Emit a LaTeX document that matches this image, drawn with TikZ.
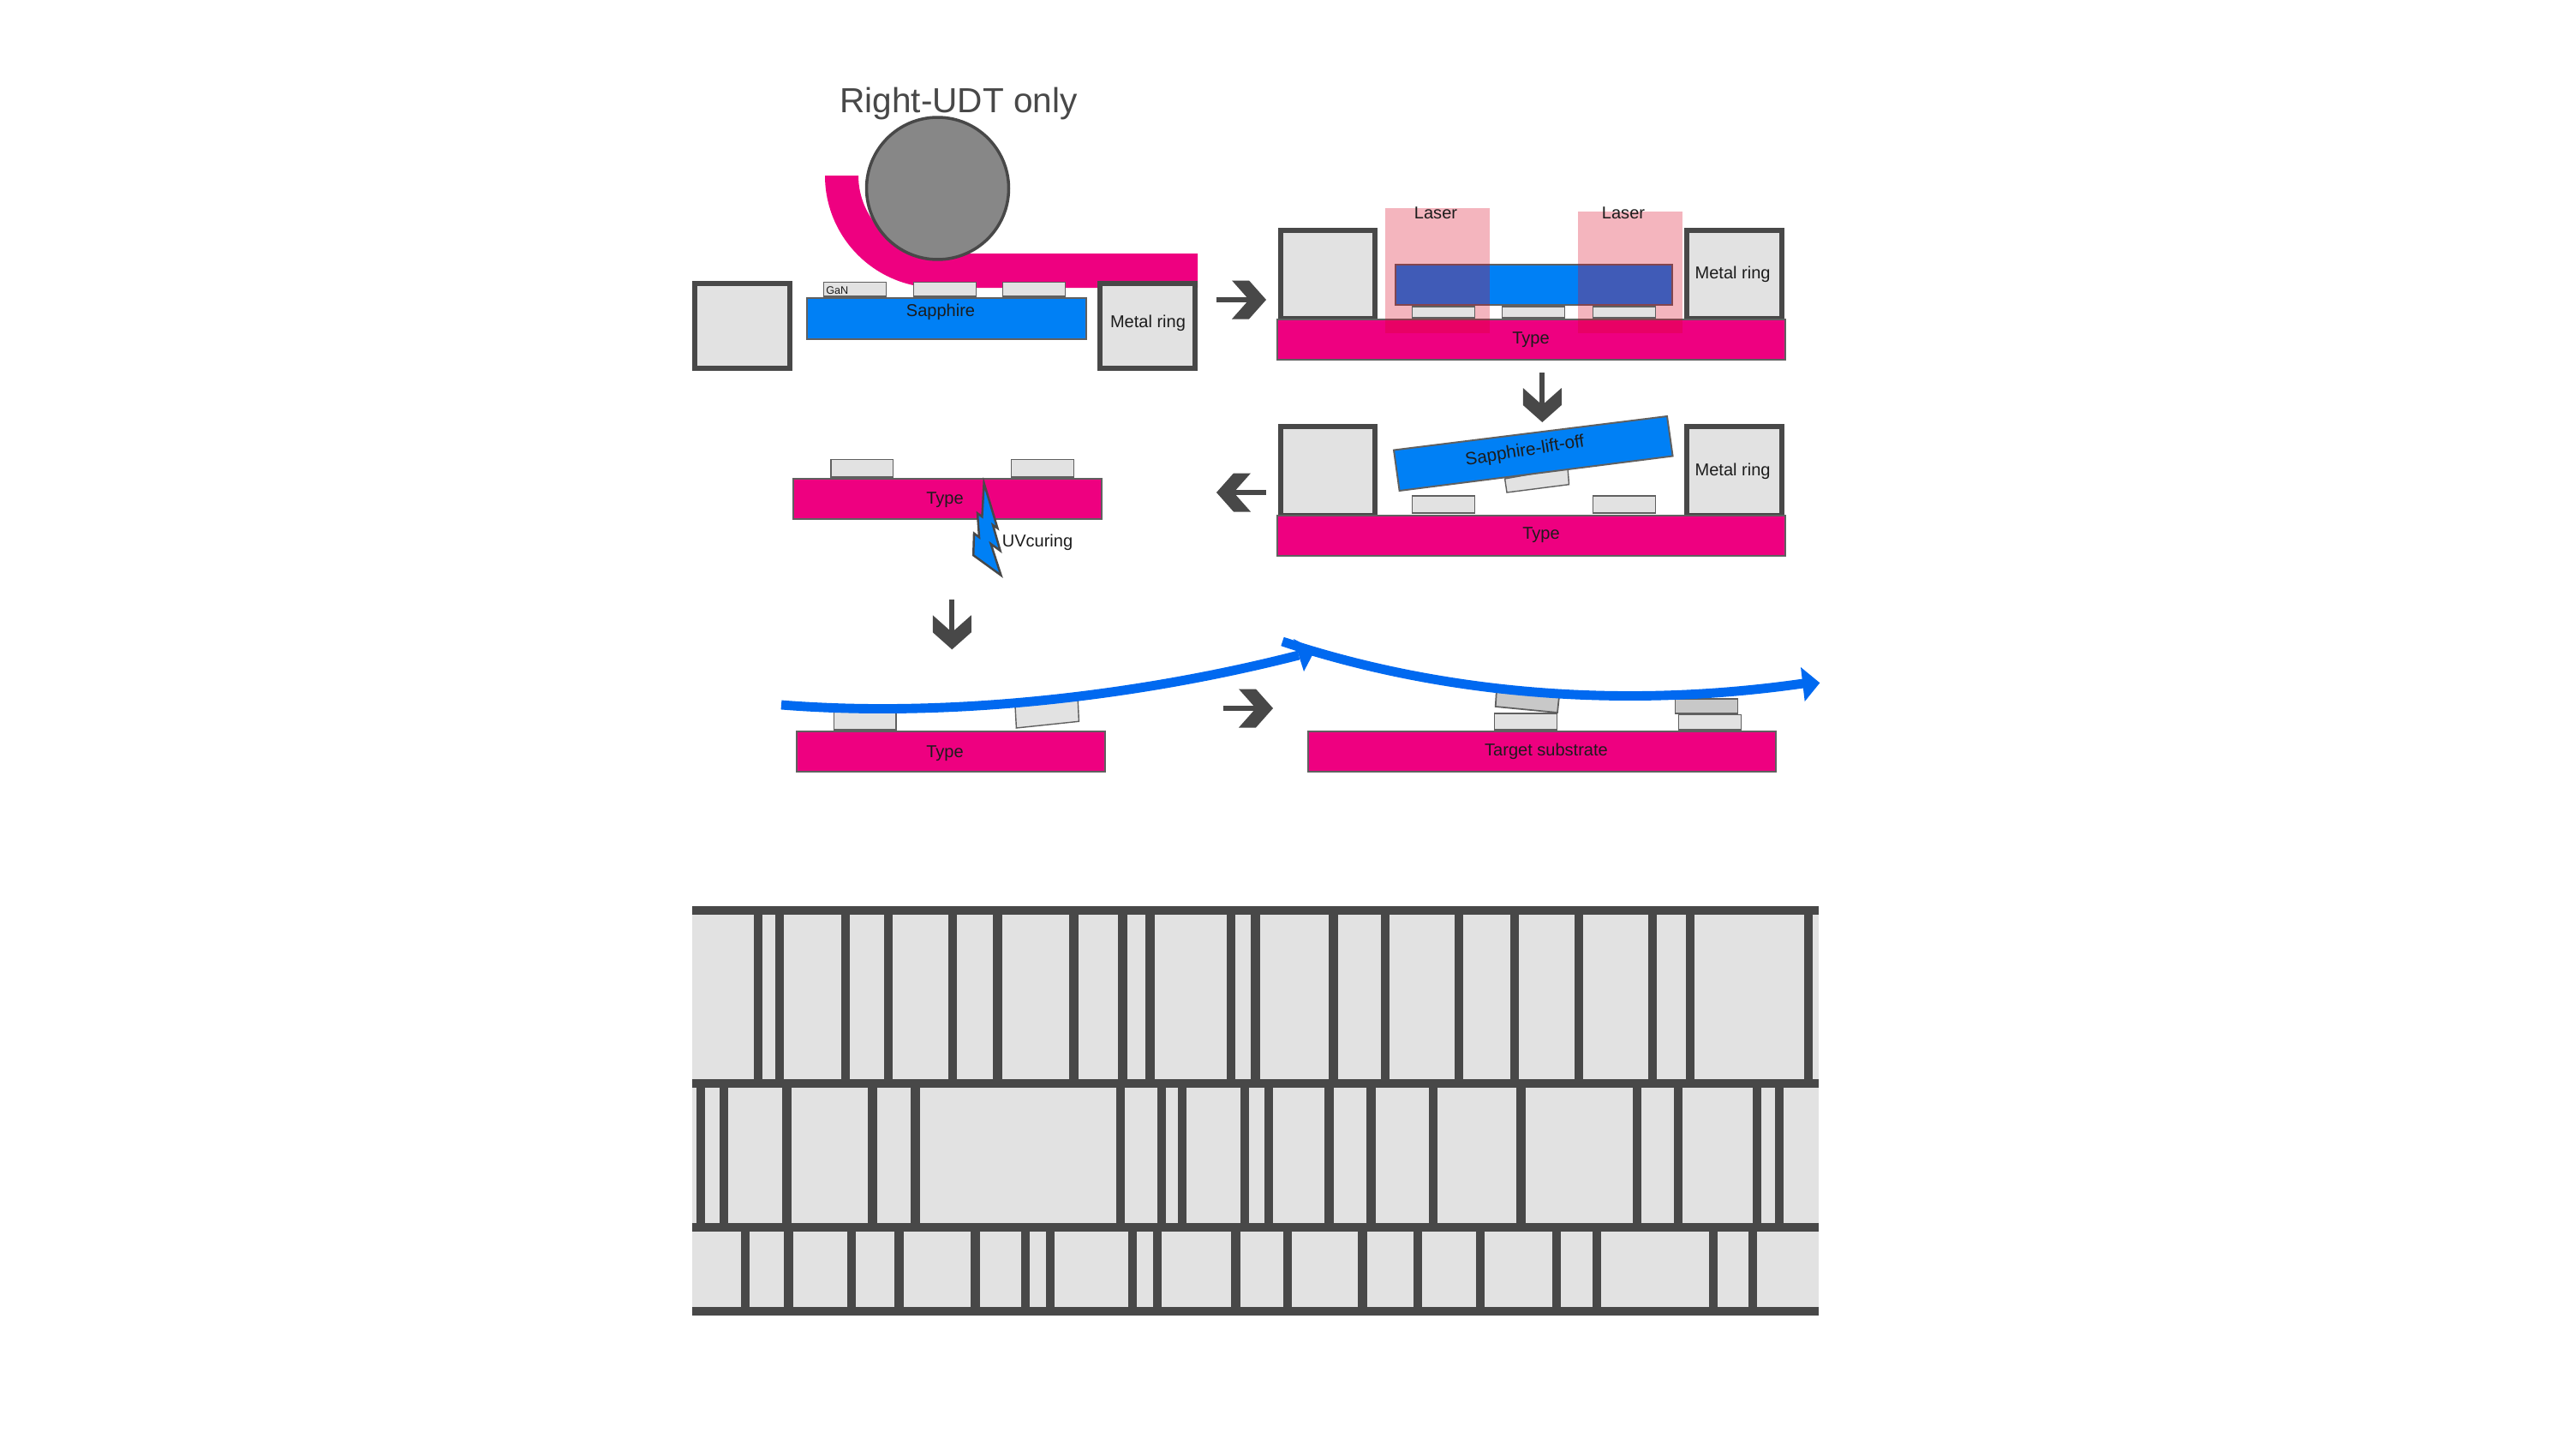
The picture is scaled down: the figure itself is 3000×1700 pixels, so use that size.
\documentclass[tikz,border=0pt]{standalone}
\usepackage{fontspec}
\setmainfont{Liberation Sans}
\definecolor{dk}{HTML}{484848}
\definecolor{cellg}{HTML}{E2E2E2}
\definecolor{upg}{HTML}{C8C8C8}
\definecolor{pinkf}{HTML}{EE0080}
\definecolor{bluef}{HTML}{0080F5}
\definecolor{curveb}{HTML}{0069F0}
\definecolor{laserc}{RGB}{218,5,37}
\definecolor{edgeg}{HTML}{606060}
\definecolor{txt}{HTML}{1C1C1C}
\definecolor{rollerc}{HTML}{878787}
\newcommand{\pxfont}[1]{\fontsize{#1}{#1}\selectfont}
\tikzset{
  ring/.style={draw=dk,fill=cellg,line width=3.4pt,line join=miter},
  chip/.style={draw=edgeg,fill=cellg,line width=0.8pt},
  upchip/.style={draw=edgeg,fill=upg,line width=1pt},
  type/.style={draw=edgeg,fill=pinkf,line width=1.1pt},
  saph/.style={draw=edgeg,fill=bluef,line width=1.1pt},
  laserbeam/.style={fill=laserc,fill opacity=0.294},
  film/.style={fill=pinkf},
  bowed/.style={draw=curveb,line width=6.2pt},
  curvehead/.style={fill=curveb},
  lab/.style={inner sep=0pt,text=txt,font=\pxfont{11.4}},
  bar/.style={draw=dk,line width=5.8pt},
  bigarrow/.pic={
    \fill[dk] (-58,-3) -- (-15,-3) -- (-15,3) -- (-58,3) -- cycle;
    \fill[dk] (-40,-22.5) -- (-20,-22.5) -- (0,0) -- (-20,22.5) -- (-40,22.5) -- (-20,0) -- cycle;
  }
}
\begin{document}
\begin{tikzpicture}[x=0.02cm,y=-0.02cm]
\useasboundingbox[fill=white] (0,0) rectangle (3000,1700);

% --- step 1
\fill[film] (963,205) .. controls (963,277.4) and (1021.6,336) .. (1094,336)
  -- (1398,336) -- (1398,296) -- (1094,296)
  .. controls (1043.7,296) and (1002,255.3) .. (1002,205) -- cycle;
\draw[chip] (961.5,329.5) rectangle (1034.5,346);
\draw[chip] (1066.5,329.5) rectangle (1139.5,346);
\draw[chip] (1170.5,329.5) rectangle (1243.5,346);
\draw[saph] (942,348) rectangle (1268,396);
\draw[ring] (811,331) rectangle (922,430);
\draw[ring] (1284,331) rectangle (1395,430);
\node[circle,draw=dk,fill=rollerc,line width=2pt,minimum size=3.32cm,inner sep=0pt] (roller) at (1094.5,220) {};
\node[lab,text=dk,font=\pxfont{23.1},anchor=base] (title) at (1119,132) {Right-UDT only};
\node[lab,font=\pxfont{7.2},anchor=west] (gan) at (964,339) {GaN};
\node[lab] (saphlab) at (1098,364) {Sapphire};
\node[lab] (ring1) at (1340,377) {Metal ring};

% --- step 2
\draw[ring] (1494.6,269) rectangle (1605,372);
\draw[ring] (1969,269) rectangle (2080,372);
\draw[type] (1491,373) rectangle (2084,420);
\draw[saph] (1629,309) rectangle (1951.6,356);
\fill[laserbeam] (1617,243) rectangle (1739,389);
\fill[laserbeam] (1841.6,247) rectangle (1963.8,389);
\draw[chip] (1648.5,358) rectangle (1721.5,371);
\draw[chip] (1753.5,358) rectangle (1826.5,371);
\draw[chip] (1859.5,358) rectangle (1932.5,371);
\node[lab] (laser1) at (1676,248.5) {Laser};
\node[lab] (laser2) at (1895,248.5) {Laser};
\node[lab] (ring2) at (2022.6,320) {Metal ring};
\node[lab] (type1) at (1787,397) {Type};

% --- step 3
\draw[ring] (1494.6,498) rectangle (1605,602);
\draw[ring] (1969,498) rectangle (2080,602);
\draw[type] (1491,602) rectangle (2084,649);
\draw[chip] (1648.5,579) rectangle (1721.5,599);
\draw[chip] (1859.5,579) rectangle (1932.5,599);
\draw[chip] (1756.6,559) -- (1830,546) -- (1831.5,565.7) -- (1759,575) -- cycle;
\draw[saph] (1627,525.5) -- (1946,486) -- (1952.6,532.5) -- (1633.6,573) -- cycle;
\node[lab,rotate=9,font=\pxfont{11.8}] (lift) at (1780,527) {Sapphire-lift-off};
\node[lab] (ring3) at (2022.6,550) {Metal ring};
\node[lab] (type2) at (1799,625) {Type};

% --- step 4
\draw[type] (926,559) rectangle (1286,606);
\draw[chip] (969.9,536.5) rectangle (1042.5,557);
\draw[chip] (1180.5,536.5) rectangle (1253.5,557);
\node[lab] (type3) at (1103,584) {Type};
\draw[draw=dk,fill=bluef,line width=1.4pt,line join=miter]
  (1148.6,564) -- (1164.4,616.7) -- (1159,613) -- (1167.6,643) -- (1156.6,635) -- (1168.5,671.7)
  -- (1136.2,648.3) -- (1137,622.7) -- (1143,627.3) -- (1141,599.3) -- (1146.4,603.3) -- cycle;
\node[lab] (uv) at (1211,633) {UVcuring};

% --- step 5
\draw[type] (930,854) rectangle (1290,901);
\draw[chip] (973.5,825) rectangle (1046,852);
\draw[chip] (1185,824) -- (1258.2,816.5) -- (1259.4,842.3) -- (1186.4,850) -- cycle;
\node[lab] (type4) at (1103,879.5) {Type};
\draw[bowed] (912,823) .. controls (1100,838) and (1320,815) .. (1516,765);
\fill[curvehead] (1535,759) -- (1510,746) -- (1522,784) -- cycle;

% --- step 6
\draw[type] (1526.7,854) rectangle (2073.4,901);
\draw[chip] (1744.5,833) rectangle (1817.5,852);
\draw[chip] (1959.5,834.5) rectangle (2032.5,852);
\draw[upchip] (1747,805) -- (1820,813) -- (1818,832) -- (1745.7,825) -- cycle;
\draw[upchip] (1955.5,815.7) rectangle (2028.5,833);
\node[lab] (target) at (1805,877.5) {Target substrate};
\draw[bowed] (1497,749) .. controls (1650,800) and (1860,833) .. (2105,798);
\fill[curvehead] (2124.3,797.3) -- (2102,779) -- (2106.7,819) -- cycle;

% --- flow arrows
\pic at (1478,350) {bigarrow};
\pic[rotate=-90] at (1800.3,493) {bigarrow};
\pic[rotate=180] at (1420,575) {bigarrow};
\pic[rotate=-90] at (1111.3,758.3) {bigarrow};
\pic at (1486,827) {bigarrow};

% --- lower block
\fill[cellg] (808,1058) rectangle (2123,1536);
\foreach \yy in {1063,1265,1432.7,1531} \draw[bar] (808,\yy) -- (2123,\yy);
\foreach \xx in {885.3,909.6,986.6,1036.6,1112,1164.5,1253.5,1310.5,1342.4,1436.6,1465.4,1556.4,1616.6,1702.9,1768,1842.9,1928.7,1973.3,2111}
  \draw[bar] (\xx,1063) -- (\xx,1265);
\foreach \xx in {817.9,845.3,918.5,1018.5,1068.5,1308.2,1356,1379.9,1453.3,1481.1,1551.4,1600.5,1672.6,1775.4,1911.3,1959,2051.3,2077}
  \draw[bar] (\xx,1265) -- (\xx,1432.7);
\foreach \xx in {869.6,920.5,993.7,1049.5,1138.4,1196.9,1225.9,1321.8,1351.3,1442.4,1503.2,1590.4,1655,1728,1816.7,1864,1999.9,2045.8}
  \draw[bar] (\xx,1432.7) -- (\xx,1531);
\end{tikzpicture}
\end{document}
